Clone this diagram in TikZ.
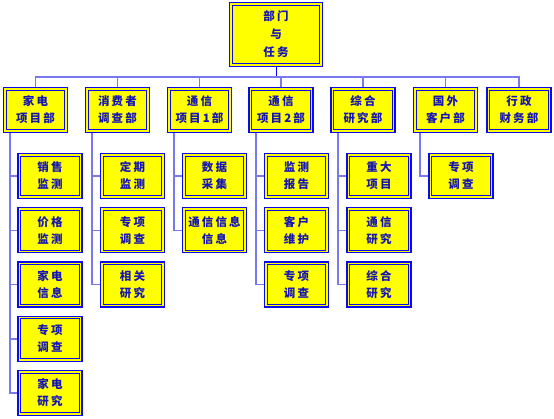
\documentclass[tikz,border=0pt]{standalone}
\usepackage{fontspec}
\usepackage{xcolor}
\newfontfamily\cjk[LetterSpace=18]{Noto Sans CJK SC}
\definecolor{boxblue}{RGB}{10,10,235}
\definecolor{linkblue}{RGB}{120,120,240}
\definecolor{textblue}{RGB}{20,20,185}
\definecolor{boxyellow}{RGB}{255,255,0}

\begin{document}
\begin{tikzpicture}[x=1pt,y=-1pt,
  box/.style={draw=boxblue,line width=1.2pt,fill=boxyellow,
    path picture={\draw[boxblue,line width=0.9pt]
      ([shift={(2.6pt,-2.6pt)}]path picture bounding box.north west) rectangle
      ([shift={(-2.6pt,2.6pt)}]path picture bounding box.south east);},
    inner sep=0pt,outer sep=0.6pt,minimum width=64pt,minimum height=45pt,align=center,
    text=textblue,font=\cjk\bfseries\fontsize{11.5}{17}\selectfont},
  link/.style={linkblue,line width=1.5pt},
  stem/.style={boxblue,line width=1pt}]
\useasboundingbox (0,0) rectangle (554,418);
% top
\node[box,minimum width=93pt,minimum height=64pt,font=\cjk\bfseries\fontsize{11.5}{18}\selectfont] (top) at (276,34.5) {部门\\与\\任务};
% departments
\node[box] (p1) at (35.5,110) {家电\\项目部};
\node[box] (p2) at (117.5,110) {消费者\\调查部};
\node[box] (p3) at (199.5,110) {通信\\项目1部};
\node[box] (p4) at (281,110) {通信\\项目2部};
\node[box] (p5) at (363,110) {综合\\研究部};
\node[box] (p6) at (445.5,110) {国外\\客户部};
\node[box] (p7) at (519,110) {行政\\财务部};
% tasks
\node[box] (c11) at (50,176) {销售\\监测};
\node[box] (c12) at (50,230.25) {价格\\监测};
\node[box] (c13) at (50,284.5) {家电\\信息};
\node[box] (c14) at (50,338.75) {专项\\调查};
\node[box] (c15) at (50,393) {家电\\研究};
\node[box] (c21) at (132.5,176) {定期\\监测};
\node[box] (c22) at (132.5,230.25) {专项\\调查};
\node[box] (c23) at (132.5,284.5) {相关\\研究};
\node[box] (c31) at (214.5,176) {数据\\采集};
\node[box] (c32) at (214.5,230.25) {通信信息\\信息};
\node[box] (c41) at (296.5,176) {监测\\报告};
\node[box] (c42) at (296.5,230.25) {客户\\维护};
\node[box] (c43) at (296.5,284.5) {专项\\调查};
\node[box] (c51) at (379,176) {重大\\项目};
\node[box] (c52) at (379,230.25) {通信\\研究};
\node[box] (c53) at (379,284.5) {综合\\研究};
\node[box] (c61) at (461,176) {专项\\调查};
% links
\coordinate (bus) at (276,77);
\draw[stem] (top.south) -- (bus);
\foreach \p in {p1,p2,p3,p4,p5,p6,p7}
  \draw[link] (bus) -| (\p.north);
\foreach \c in {c11,c12,c13,c14,c15}
  \draw[link] ([xshift=-25.5pt]p1.south) |- (\c.west);
\foreach \c in {c21,c22,c23}
  \draw[link] ([xshift=-25.5pt]p2.south) |- (\c.west);
\foreach \c in {c31,c32}
  \draw[link] ([xshift=-25.5pt]p3.south) |- (\c.west);
\foreach \c in {c41,c42,c43}
  \draw[link] ([xshift=-25pt]p4.south) |- (\c.west);
\foreach \c in {c51,c52,c53}
  \draw[link] ([xshift=-25pt]p5.south) |- (\c.west);
\draw[link] ([xshift=-25.5pt]p6.south) |- (c61.west);
\end{tikzpicture}
\end{document}
